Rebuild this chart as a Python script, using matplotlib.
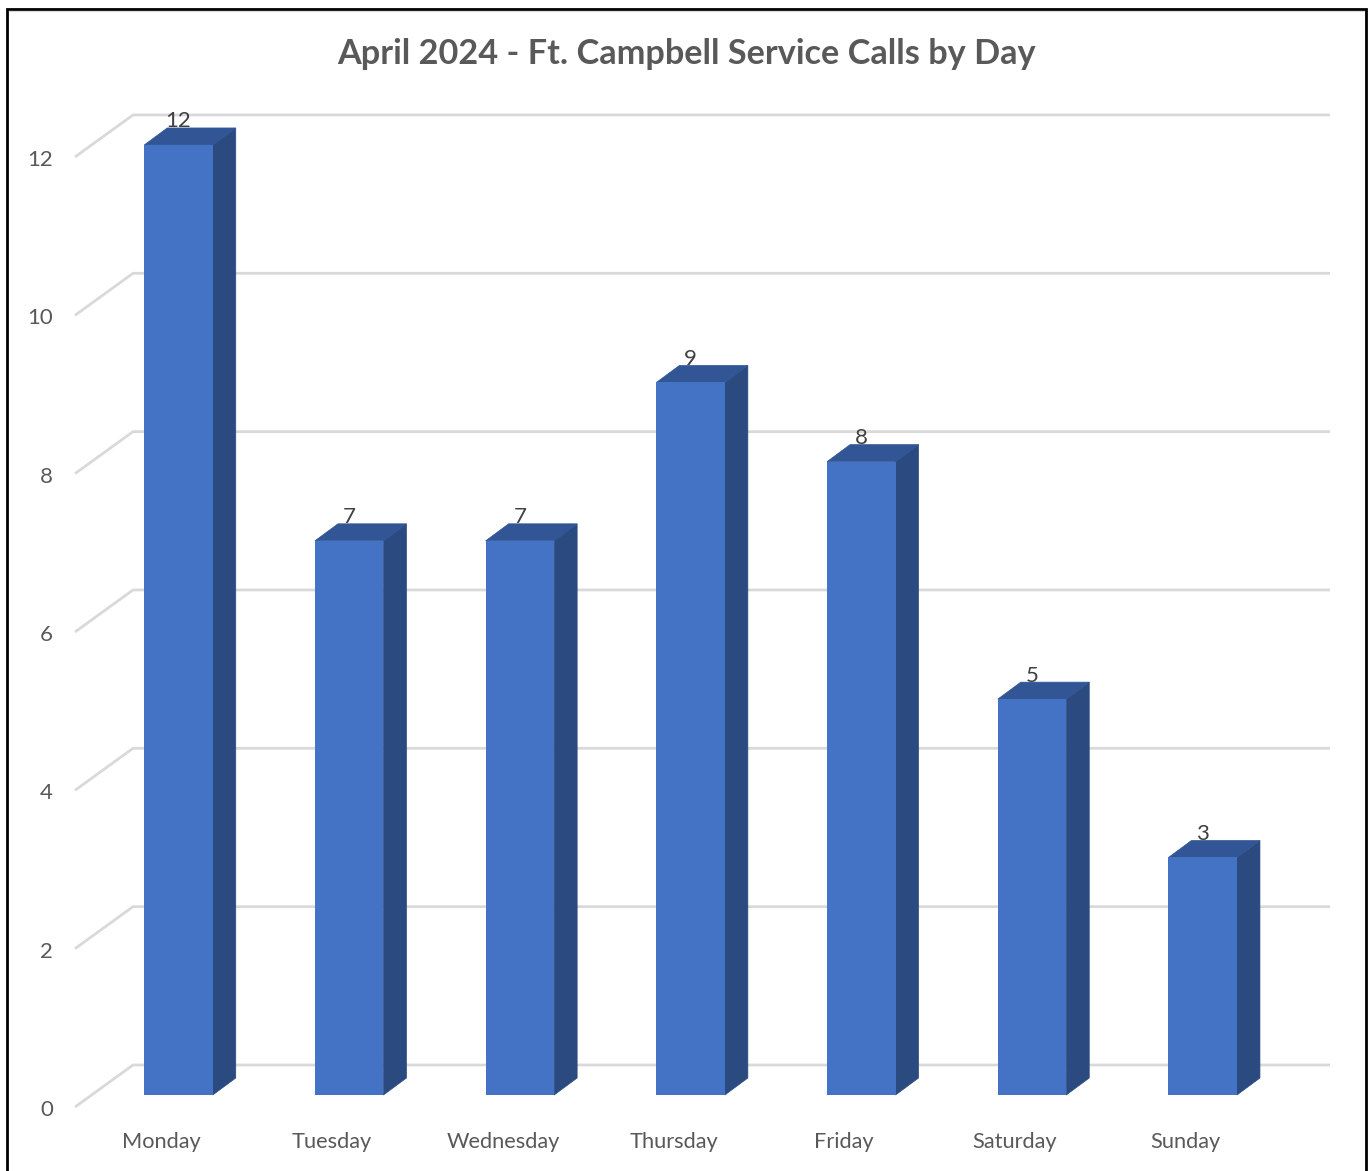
import matplotlib
matplotlib.use("Agg")
import matplotlib.pyplot as plt
from matplotlib.patches import Polygon

plt.rcParams['font.family'] = ['Lato', 'DejaVu Sans']

days = ['Monday', 'Tuesday', 'Wednesday', 'Thursday', 'Friday', 'Saturday', 'Sunday']
calls = [12, 7, 7, 9, 8, 5, 3]
y_ticks = [0, 2, 4, 6, 8, 10, 12]

W, H = 1371, 1171
# pixels per category / per call, picture scale
sx = 170.7
sy = 79.17
x0_px = 178.5
y0_px = 1095

fig = plt.figure(figsize=(W / 100, H / 100), dpi=100)
ax = fig.add_axes([0, 0, 1, 1])
ax.set_xlim(-x0_px / sx, (W - x0_px) / sx)
ax.set_ylim(-(H - y0_px) / sy, y0_px / sy)
ax.axis('off')

bar_w = 68.5 / sx
dx = 23 / sx
dy = 17 / sy

# back wall grid lines and the slanted bit on the left
grid_col = '#d9d9d9'
wall_l = (133 - x0_px) / sx
wall_r = (1330 - x0_px) / sx
tick_l = (75 - x0_px) / sx
wall_up = 30 / sy
front_down = -12 / sy
for v in y_ticks:
    ax.plot([tick_l, wall_l, wall_r], [v + front_down, v + wall_up, v + wall_up],
            color=grid_col, lw=2.0, solid_joinstyle='miter', solid_capstyle='butt', zorder=1)
    ax.text((53 - x0_px) / sx, v + front_down - 3 / sy, str(v), ha='right', va='center',
            fontsize=16, color='#595959')

# 3d looking bars
x = list(range(len(days)))
for i, v in zip(x, calls):
    l = i - bar_w / 2
    r = i + bar_w / 2
    ax.add_patch(Polygon([(r, 0), (r + dx, dy), (r + dx, v + dy), (r, v)],
                         closed=True, fc='#2b4a80', ec='#2b4a80', lw=0.5, zorder=2))
    ax.add_patch(Polygon([(l, v), (r, v), (r + dx, v + dy), (l + dx, v + dy)],
                         closed=True, fc='#315595', ec='#315595', lw=0.5, zorder=2))
    ax.text(i, v + 23.5 / sy, str(v), ha='center', va='center', fontsize=16,
            color='#404040', zorder=4)
    ax.text(i - 17 / sx, -47 / sy, days[i], ha='center', va='center', fontsize=15.7,
            color='#595959')
ax.bar(x, calls, width=bar_w, color='#4472c4', zorder=3)

ax.text((686.5 - x0_px) / sx, (y0_px - 54) / sy, 'April 2024 - Ft. Campbell Service Calls by Day',
        ha='center', va='center', fontsize=24.7, fontweight='bold', color='#595959')

# black frame of the pasted picture, no bottom edge
fr_l, fr_r = (7 - x0_px) / sx, (1366 - x0_px) / sx
fr_t = (y0_px - 8.5) / sy
ax.plot([fr_l, fr_l, fr_r, fr_r], [ax.get_ylim()[0], fr_t, fr_t, ax.get_ylim()[0]],
        color='black', lw=2.0, solid_joinstyle='miter', zorder=5)
ax.plot([fr_l + 2 / sx, fr_r - 2 / sx], [fr_t - 2 / sy, fr_t - 2 / sy], color='#d9d9d9', lw=0.8, zorder=5)

fig.savefig('out.png', dpi=100)
